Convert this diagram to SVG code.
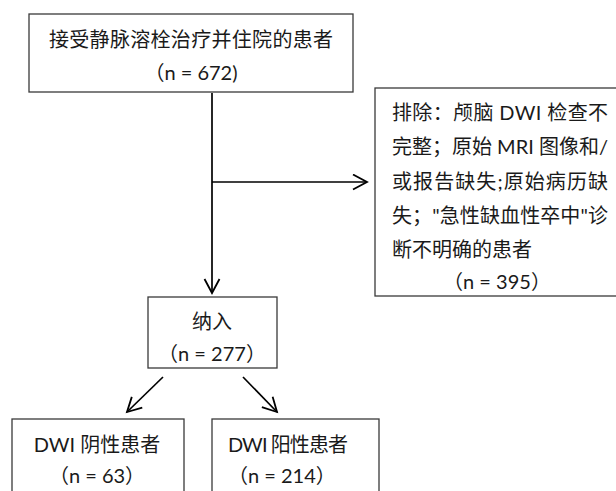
<svg xmlns="http://www.w3.org/2000/svg" width="616" height="491" viewBox="0 0 616 491">
<style>
.box{fill:#fff;stroke:#3a3a3a;stroke-width:1.3}
.t{font-family:"Lato","Noto Sans CJK SC",sans-serif;font-size:20px;fill:#1a1a1a}
.c{text-anchor:middle}
.ln{stroke:#000;stroke-width:1.7;fill:none}
</style>
<defs>
<marker id="ah" markerWidth="18" markerHeight="18" refX="15" refY="8.5" orient="auto" markerUnits="userSpaceOnUse">
<path d="M1,1 L15,8.5 L1,16" fill="none" stroke="#000" stroke-width="1.8"/>
</marker>
</defs>
<rect width="616" height="491" fill="#fff"/>
<g id="connectors">
<line class="ln" x1="212" y1="93" x2="212" y2="293" marker-end="url(#ah)"/>
<line class="ln" x1="212" y1="182" x2="367" y2="182" marker-end="url(#ah)"/>
<line class="ln" x1="163" y1="377" x2="127" y2="412" marker-end="url(#ah)"/>
<line class="ln" x1="243" y1="377" x2="277" y2="412" marker-end="url(#ah)"/>
</g>
<g id="n1">
<rect class="box" x="29" y="14" width="324" height="78"/>
<text class="t c" x="191" y="47" textLength="284" lengthAdjust="spacing">接受静脉溶栓治疗并住院的患者</text>
<text class="t c" x="191" y="80">（n = 672)</text>
</g>
<g id="n2">
<rect class="box" x="375" y="88" width="245" height="208"/>
<text class="t" x="392" y="120" textLength="216" lengthAdjust="spacing">排除：颅脑 DWI 检查不</text>
<text class="t" x="392" y="154" textLength="216" lengthAdjust="spacing">完整；原始 MRI 图像和/</text>
<text class="t" x="392" y="189" textLength="216" lengthAdjust="spacing">或报告缺失;原始病历缺</text>
<text class="t" x="392" y="223" textLength="216" lengthAdjust="spacing">失；"急性缺血性卒中"诊</text>
<text class="t" x="392" y="257">断不明确的患者</text>
<text class="t c" x="497" y="289">（n = 395）</text>
</g>
<g id="n3">
<rect class="box" x="148" y="297" width="129" height="71"/>
<text class="t c" x="212" y="329">纳入</text>
<text class="t c" x="212" y="361">（n = 277）</text>
</g>
<g id="n4">
<rect class="box" x="12" y="419" width="172" height="80"/>
<text class="t c" x="97" y="452">DWI 阴性患者</text>
<text class="t c" x="97" y="483">（n = 63）</text>
</g>
<g id="n5">
<rect class="box" x="212" y="419" width="167" height="80"/>
<text class="t" x="228" y="452" textLength="120" lengthAdjust="spacing">DWI 阳性患者</text>
<text class="t" x="228" y="483">（n = 214）</text>
</g>
</svg>
